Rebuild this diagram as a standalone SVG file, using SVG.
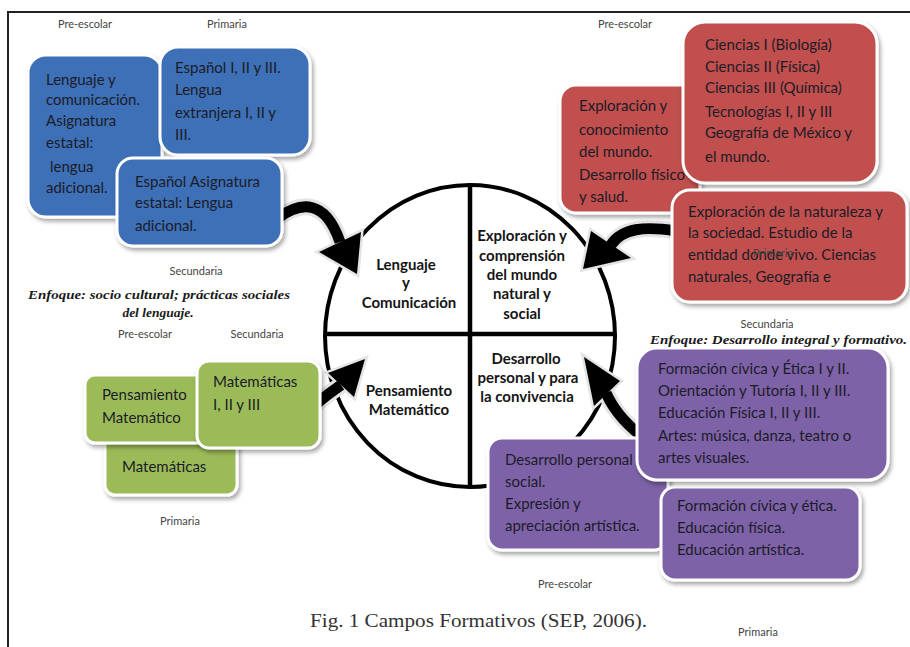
<svg xmlns="http://www.w3.org/2000/svg" width="910" height="647" viewBox="0 0 910 647">
<defs>
<filter id="sh" x="-10%" y="-10%" width="130%" height="130%">
<feDropShadow dx="2" dy="3" stdDeviation="2" flood-color="#000" flood-opacity="0.35"/>
</filter>
<style>
.box{stroke:#ffffff;stroke-width:3;filter:url(#sh)}
.blue{fill:#3e6fb6}
.red{fill:#c0504d}
.purple{fill:#7e62a7}
.green{fill:#9bbb59}
.t{font-family:Lato,"Liberation Sans",sans-serif;font-size:15px;fill:#1c1c28}
.q{font-family:Lato,"Liberation Sans",sans-serif;font-size:15px;font-weight:bold;fill:#151515;text-anchor:middle}
.lbl{font-family:Lato,"Liberation Sans",sans-serif;font-size:11px;fill:#444;text-anchor:middle}
.enf{font-family:"Liberation Serif",serif;font-size:13.5px;font-weight:bold;font-style:italic;fill:#1a1a1a}
.ol{fill:none;stroke:#e4e4e4;stroke-width:17;stroke-linecap:butt}
.bd{fill:none;stroke:#000;stroke-width:11;stroke-linecap:butt}
.ho{fill:#000;stroke:#e4e4e4;stroke-width:5;stroke-linejoin:miter}
.hd{fill:#000}
</style>
</defs>
<rect width="910" height="647" fill="#fff"/>
<path d="M8 647 V12 H910" fill="none" stroke="#222" stroke-width="2"/>

<g id="circle">
<ellipse cx="470" cy="336" rx="145" ry="151" fill="#fff" stroke="#000" stroke-width="4"/>
<line x1="325" y1="334" x2="615" y2="334" stroke="#000" stroke-width="4.5"/>
<line x1="470" y1="185" x2="470" y2="487" stroke="#000" stroke-width="4.5"/>
</g>
<g id="quadrants">
<g id="q-lenguaje">
<text class="q" x="406" y="270">Lenguaje</text>
<text class="q" x="406" y="288">y</text>
<text class="q" x="409" y="308">Comunicación</text>
</g>
<g id="q-exploracion">
<text class="q" x="522" y="241">Exploración y</text>
<text class="q" x="522" y="261">comprensión</text>
<text class="q" x="522" y="280">del mundo</text>
<text class="q" x="522" y="299">natural y</text>
<text class="q" x="522" y="319">social</text>
</g>
<g id="q-desarrollo">
<text class="q" x="526" y="364">Desarrollo</text>
<text class="q" x="528" y="383">personal y para</text>
<text class="q" x="527" y="402">la convivencia</text>
</g>
<g id="q-pensamiento">
<text class="q" x="409" y="396">Pensamiento</text>
<text class="q" x="409" y="415">Matemático</text>
</g>
</g>

<g id="connectors">
<path class="ol" d="M278 218 C300 202, 325 198, 340 242"/>
<polygon class="ho" points="319,252 361,232 357,274"/>
<path class="bd" d="M278 218 C300 202, 325 198, 340 242"/>
<polygon class="hd" points="319,252 361,232 357,274"/>

<path class="ol" d="M676 231 C645 226, 622 228, 611 245"/>
<polygon class="ho" points="591,231 631,258 583,269"/>
<path class="bd" d="M676 231 C645 226, 622 228, 611 245"/>
<polygon class="hd" points="591,231 631,258 583,269"/>

<path class="ol" d="M316 404 Q328 394, 341 385"/>
<polygon class="ho" points="328,373 365,359 354,397"/>
<path class="bd" d="M316 404 Q328 394, 341 385"/>
<polygon class="hd" points="328,373 365,359 354,397"/>

<path class="ol" d="M650 442 C632 430, 616 415, 606 393"/>
<polygon class="ho" points="584,357 620,381 594,406"/>
<path class="bd" d="M650 442 C632 430, 616 415, 606 393"/>
<polygon class="hd" points="584,357 620,381 594,406"/>
</g>

<g id="blue-preescolar">
<rect class="box blue" x="28" y="55" width="134" height="162" rx="18"/>
<text class="t" x="46" y="85">Lenguaje y</text>
<text class="t" x="46" y="105">comunicación.</text>
<text class="t" x="46" y="126">Asignatura</text>
<text class="t" x="46" y="148">estatal:</text>
<text class="t" x="50" y="172">lengua</text>
<text class="t" x="46" y="193">adicional.</text>
</g>
<g id="blue-primaria">
<rect class="box blue" x="160" y="47" width="150" height="108" rx="18"/>
<text class="t" x="175" y="73">Español I, II y III.</text>
<text class="t" x="175" y="95">Lengua</text>
<text class="t" x="175" y="118">extranjera I, II y</text>
<text class="t" x="175" y="140">III.</text>
</g>
<g id="blue-secundaria">
<rect class="box blue" x="117" y="158" width="165" height="88" rx="16"/>
<text class="t" x="135" y="187">Español Asignatura</text>
<text class="t" x="135" y="208">estatal: Lengua</text>
<text class="t" x="135" y="231">adicional.</text>
</g>

<g id="red-preescolar">
<rect class="box red" x="560" y="85" width="140" height="128" rx="16"/>
<text class="t" x="579" y="111">Exploración y</text>
<text class="t" x="579" y="135">conocimiento</text>
<text class="t" x="579" y="157">del mundo.</text>
<text class="t" x="579" y="180">Desarrollo físico</text>
<text class="t" x="579" y="202">y salud.</text>
</g>
<g id="red-primaria">
<rect class="box red" x="683" y="22" width="194" height="161" rx="22"/>
<text class="t" x="705" y="50">Ciencias I (Biología)</text>
<text class="t" x="705" y="72">Ciencias II (Física)</text>
<text class="t" x="705" y="93">Ciencias III (Química)</text>
<text class="t" x="705" y="117">Tecnologías I, II y III</text>
<text class="t" x="705" y="138">Geografía de México y</text>
<text class="t" x="705" y="162">el mundo.</text>
</g>
<g id="red-secundaria">
<rect class="box red" x="672" y="190" width="235" height="112" rx="18"/>
<text class="t" x="688" y="217">Exploración de la naturaleza y</text>
<text class="t" x="688" y="238">la sociedad. Estudio de la</text>
<text class="t" x="688" y="260">entidad donde vivo. Ciencias</text>
<text class="t" x="688" y="282">naturales, Geografía e</text>
<text class="lbl" x="773" y="257">Primaria</text>
</g>

<g id="green-primaria">
<rect class="box green" x="105" y="435" width="132" height="60" rx="10"/>
<text class="t" x="122" y="472">Matemáticas</text>
</g>
<g id="green-preescolar">
<rect class="box green" x="85" y="375" width="130" height="68" rx="10"/>
<text class="t" x="102" y="400">Pensamiento</text>
<text class="t" x="102" y="423">Matemático</text>
</g>
<g id="green-secundaria">
<rect class="box green" x="197" y="361" width="123" height="87" rx="12"/>
<text class="t" x="213" y="387">Matemáticas</text>
<text class="t" x="213" y="410">I, II y III</text>
</g>

<g id="purple-preescolar">
<rect class="box purple" x="488" y="438" width="180" height="112" rx="14"/>
<text class="t" x="505" y="465">Desarrollo personal y</text>
<text class="t" x="505" y="487">social.</text>
<text class="t" x="505" y="509">Expresión y</text>
<text class="t" x="505" y="531">apreciación artística.</text>
</g>
<g id="purple-primaria">
<rect class="box purple" x="661" y="487" width="199" height="93" rx="14"/>
<text class="t" x="677" y="511">Formación cívica y ética.</text>
<text class="t" x="677" y="533">Educación física.</text>
<text class="t" x="677" y="555">Educación artística.</text>
</g>
<g id="purple-secundaria">
<rect class="box purple" x="637" y="348" width="251" height="132" rx="20"/>
<text class="t" x="658" y="374">Formación cívica y Ética I y II.</text>
<text class="t" x="658" y="396">Orientación y Tutoría I, II y III.</text>
<text class="t" x="658" y="418">Educación Física I, II y III.</text>
<text class="t" x="658" y="441">Artes: música, danza, teatro o</text>
<text class="t" x="658" y="463">artes visuales.</text>
</g>

<g id="labels">
<text class="lbl" x="85" y="28">Pre-escolar</text>
<text class="lbl" x="227" y="28">Primaria</text>
<text class="lbl" x="196" y="275">Secundaria</text>
<text class="lbl" x="625" y="28">Pre-escolar</text>
<text class="lbl" x="767" y="328">Secundaria</text>
<text class="lbl" x="145" y="338">Pre-escolar</text>
<text class="lbl" x="257" y="338">Secundaria</text>
<text class="lbl" x="180" y="525">Primaria</text>
<text class="lbl" x="565" y="588">Pre-escolar</text>
<text class="lbl" x="758" y="636">Primaria</text>
<text class="enf" x="28" y="299" textLength="262" lengthAdjust="spacingAndGlyphs">Enfoque: socio cultural; prácticas sociales</text>
<text class="enf" x="158" y="317" text-anchor="middle">del lenguaje.</text>
<text class="enf" x="650" y="344" textLength="257" lengthAdjust="spacingAndGlyphs">Enfoque: Desarrollo integral y formativo.</text>
<text x="310" y="627" font-family="'Liberation Serif',serif" font-size="18" fill="#333" textLength="337" lengthAdjust="spacingAndGlyphs">Fig. 1 Campos Formativos (SEP, 2006).</text>
</g>
</svg>
